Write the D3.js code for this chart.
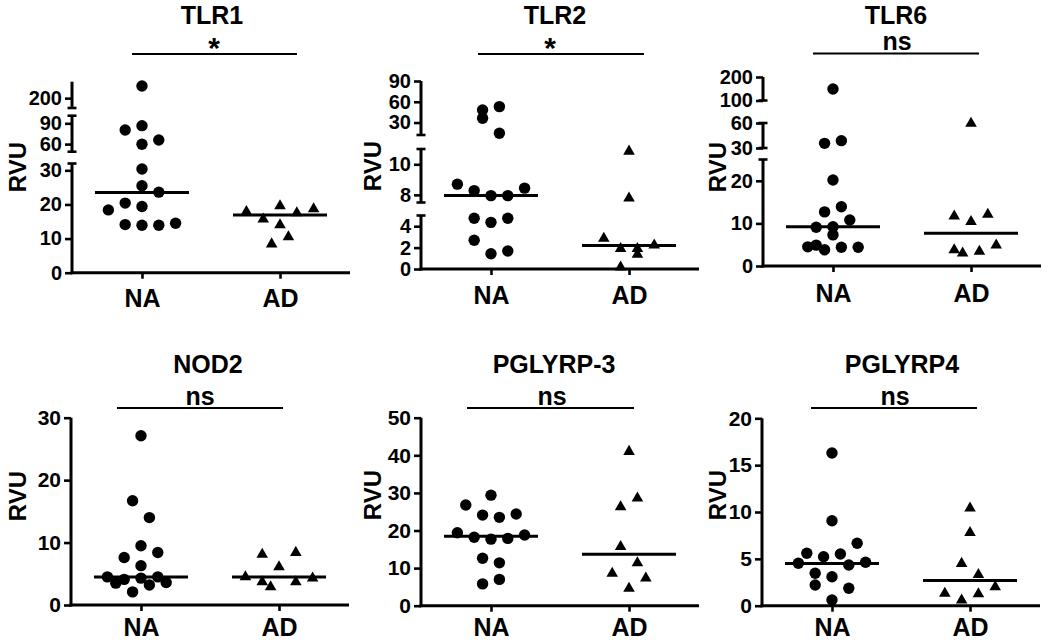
<!DOCTYPE html>
<html><head><meta charset="utf-8">
<script src="https://cdn.jsdelivr.net/npm/d3@7"></script>
<style>body{margin:0;background:#fff}svg{display:block}</style>
</head><body><svg id="c" width="1050" height="642"></svg>
<script>
// ---------------- DATA ----------------
const categories = ["NA", "AD"];
const titles = ["TLR1", "TLR2", "TLR6", "NOD2", "PGLYRP-3", "PGLYRP4"];
const sigLabels = ["*", "*", "ns", "ns", "ns", "ns"];
const yLabel = "RVU";

const tlr1NA = [237, 80.4, 86.6, 65.9, 59.7, 30.4, 25.5, 23.6, 18.4, 20.4, 19.4, 14.1, 13.9, 13.9, 14.5];
const tlr1AD = [17.9, 15.7, 19.6, 14.0, 17.5, 18.7, 8.4, 10.5];
const tlr1Median = [23.5, 16.9];
const tlr1Ticks = [0, 10, 20, 30, 60, 90, 200];

const tlr2NA = [48.2, 36.2, 53, 14.5, 8.7, 8.28, 7.95, 7.95, 8.44, 4.74, 4.36, 4.74, 2.69, 1.43, 1.68];
const tlr2AD = [10.85, 7.78, 2.85, 1.9, 1.9, 1.37, 2.22, 0.17];
const tlr2Median = [7.95, 2.2];
const tlr2Ticks = [0, 2, 4, 8, 10, 30, 60, 90];

const tlr6NA = [149, 35.6, 38.8, 20.2, 12.7, 13.9, 10.8, 9.1, 9.2, 7.3, 4.5, 4.9, 3.8, 4.4, 4.4];
const tlr6AD = [59.6, 11.7, 10.4, 12.1, 3.8, 3.0, 3.4, 4.9];
const tlr6Median = [9.2, 7.7];
const tlr6Ticks = [0, 10, 20, 30, 60, 100, 200];

const nod2NA = [27.1, 16.7, 14.0, 9.5, 8.4, 7.6, 6.3, 4.5, 3.5, 4.1, 4.3, 3.2, 4.5, 3.6, 2.1];
const nod2AD = [8.1, 8.4, 6.1, 4.5, 3.7, 3.7, 4.3, 2.9];
const nod2Median = [4.5, 4.5];
const nod2Ticks = [0, 10, 20, 30];

const pglyrp3NA = [29.4, 26.8, 24.1, 23.5, 24.4, 19.4, 18.2, 17.7, 17.9, 18.8, 12.6, 11.4, 5.8, 7.0];
const pglyrp3AD = [41.0, 28.6, 26.3, 15.7, 11.4, 8.6, 7.3, 4.6];
const pglyrp3Median = [18.5, 13.7];
const pglyrp3Ticks = [0, 10, 20, 30, 40, 50];

const pglyrp4NA = [16.3, 9.07, 6.66, 5.59, 5.23, 5.52, 4.53, 4.34, 4.63, 3.46, 3.09, 2.21, 1.86, 0.61];
const pglyrp4AD = [10.4, 7.8, 4.5, 3.3, 1.3, 1.25, 2.0, 0.6];
const pglyrp4Median = [4.5, 2.7];
const pglyrp4Ticks = [0, 5, 10, 15, 20];

// ---------------- LAYOUT (dodge slots, axis breaks, placement) ----------------
const dodge = {
  tlr1NA: [0, -2, 0, 2, 0, 0, 0, 2, -4, -2, 0, -2, 0, 2, 4],
  tlr1AD: [-4, -2, 0, 0, 2, 4, -1, 1],
  tlr2NA: [-1, -1, 1, 1, -4, -2, 0, 2, 4, -2, 0, 2, -2, 0, 2],
  tlr2AD: [0, 0, -3, -1, 1, 1, 3, -1],
  tlr6NA: [0, -1, 1, 0, -1, 1, 2, -2, 0, 0, -3, -2, -1, 1, 3],
  tlr6AD: [0, -2, 0, 2, -2, -1, 1, 3],
  nod2NA: [0, -1, 1, 0, 2, -2, 0, -4, -3, -2, 0, 1, 2, 3, -1],
  nod2AD: [-2, 2, 0, -4, -2, 2, 4, -1],
  pglyrp3NA: [0, -3, -1, 1, 3, -4, -2, 0, 2, 4, -1, 1, -1, 1],
  pglyrp3AD: [0, 1, -1, -1, 1, -2, 2, 0],
  pglyrp4NA: [0, 0, 3, -3, -1, 1, -4, 2, 4, -2, 0, -2, 2, 0],
  pglyrp4AD: [0, 0, -1, 1, -3, 1, 3, -1]
};

// segs: [domainLo, domainHi, pixelLo, pixelHi]
const layout = [
  {ax: 72, base: 272.7, segs: [[0, 32, 272.7, 163.5], [49, 101, 151.7, 115.7], [170, 250, 108, 81.7]],
   titleX: 212, titleY: 23.5, sig: [132, 297, 54], sigX: 214, rvuX: 17, rvuY: 167, tickFont: 20, xPad: 11},
  {ax: 421, base: 269, segs: [[0, 5, 269, 215.5], [7.5, 11, 202.5, 149], [12, 90, 135, 81]],
   titleX: 555, titleY: 23.5, sig: [478, 644, 54], sigX: 550, rvuX: 372.5, rvuY: 166, tickFont: 20, xPad: 11},
  {ax: 763, base: 266, segs: [[0, 25, 266, 159.5], [30, 60, 148, 123], [100, 200, 100.5, 77]],
   titleX: 896, titleY: 23.5, sig: [813, 979, 53.5], sigX: 897, rvuX: 717, rvuY: 167, tickFont: 20, xPad: 12},
  {ax: 71, base: 605, segs: [[0, 30, 605, 417.7]],
   titleX: 208, titleY: 372.5, sig: [117, 283, 408], sigX: 200, rvuX: 17.5, rvuY: 496, tickFont: 21, xPad: 7},
  {ax: 421, base: 605.7, segs: [[0, 50, 605.7, 417.7]],
   titleX: 554, titleY: 372.5, sig: [467, 634, 408], sigX: 552, rvuX: 372.5, rvuY: 495, tickFont: 21, xPad: 7},
  {ax: 762, base: 605.7, segs: [[0, 20, 605.7, 418.3]],
   titleX: 902, titleY: 372.5, sig: [811, 977, 408], sigX: 895, rvuX: 717, rvuY: 495, tickFont: 21, xPad: 7}
];

const panels = [
  {na: tlr1NA, ad: tlr1AD, med: tlr1Median, ticks: tlr1Ticks, dn: dodge.tlr1NA, da: dodge.tlr1AD},
  {na: tlr2NA, ad: tlr2AD, med: tlr2Median, ticks: tlr2Ticks, dn: dodge.tlr2NA, da: dodge.tlr2AD},
  {na: tlr6NA, ad: tlr6AD, med: tlr6Median, ticks: tlr6Ticks, dn: dodge.tlr6NA, da: dodge.tlr6AD},
  {na: nod2NA, ad: nod2AD, med: nod2Median, ticks: nod2Ticks, dn: dodge.nod2NA, da: dodge.nod2AD},
  {na: pglyrp3NA, ad: pglyrp3AD, med: pglyrp3Median, ticks: pglyrp3Ticks, dn: dodge.pglyrp3NA, da: dodge.pglyrp3AD},
  {na: pglyrp4NA, ad: pglyrp4AD, med: pglyrp4Median, ticks: pglyrp4Ticks, dn: dodge.pglyrp4NA, da: dodge.pglyrp4AD}
];

// ---------------- DRAW ----------------
const FONT = "'Liberation Sans', Arial, Helvetica, sans-serif";
const INK = "#000";
const svg = d3.select("#c");
svg.append("rect").attr("width", 1050).attr("height", 642).attr("fill", "#fff");

const AXIS_W = 278, SLOT = 8.4, MED_HALF = 47;

panels.forEach((p, i) => {
  const L = layout[i];
  const g = svg.append("g");

  const y = d3.scaleLinear()
    .domain(L.segs.flatMap(s => [s[0], s[1]]))
    .range(L.segs.flatMap(s => [s[2], s[3]]));
  const x = d3.scalePoint().domain(categories).range([L.ax, L.ax + AXIS_W]).padding(0.507);

  // y axis ticks & labels
  const yAx = g.append("g").attr("transform", `translate(${L.ax},0)`)
    .call(d3.axisLeft(y).tickValues(p.ticks).tickSize(7).tickPadding(3).tickFormat(d3.format("d")));
  yAx.select(".domain").remove();
  yAx.selectAll(".tick line").attr("stroke", INK).attr("stroke-width", 2.6);
  yAx.selectAll(".tick text").attr("fill", INK)
    .style("font-family", FONT).style("font-weight", "bold").style("font-size", L.tickFont + "px");

  // y axis segments with break caps
  L.segs.forEach((s, k) => {
    g.append("line").attr("x1", L.ax).attr("x2", L.ax)
      .attr("y1", y(s[0]) + (k === 0 ? 1.5 : 0)).attr("y2", y(s[1]))
      .attr("stroke", INK).attr("stroke-width", 3);
    const caps = [];
    if (k > 0) caps.push(y(s[0]));
    if (k < L.segs.length - 1) caps.push(y(s[1]));
    caps.forEach(cy => g.append("line").attr("x1", L.ax - 4.5).attr("x2", L.ax + 4.5)
      .attr("y1", cy).attr("y2", cy).attr("stroke", INK).attr("stroke-width", 2.6));
  });

  // x axis
  const xAx = g.append("g").attr("transform", `translate(0,${L.base})`)
    .call(d3.axisBottom(x).tickSize(6).tickSizeOuter(0).tickPadding(L.xPad));
  xAx.select(".domain").remove();
  xAx.selectAll(".tick line").attr("stroke", INK).attr("stroke-width", 2.6);
  xAx.selectAll(".tick text").attr("fill", INK)
    .style("font-family", FONT).style("font-weight", "bold").style("font-size", "25px");
  g.append("line").attr("x1", L.ax - 1.5).attr("x2", L.ax + AXIS_W)
    .attr("y1", L.base).attr("y2", L.base).attr("stroke", INK).attr("stroke-width", 3);

  // y label
  g.append("text").attr("transform", `translate(${L.rvuX},${L.rvuY}) rotate(-90)`)
    .attr("text-anchor", "middle").attr("dy", "0.36em").attr("fill", INK)
    .style("font-family", FONT).style("font-weight", "bold").style("font-size", "24px")
    .text(yLabel);

  // title
  g.append("text").attr("x", L.titleX).attr("y", L.titleY).attr("text-anchor", "middle").attr("fill", INK)
    .style("font-family", FONT).style("font-weight", "bold").style("font-size", "25px")
    .text(titles[i]);

  // significance bar
  g.append("line").attr("x1", L.sig[0]).attr("x2", L.sig[1]).attr("y1", L.sig[2]).attr("y2", L.sig[2])
    .attr("stroke", INK).attr("stroke-width", 2.2);
  const star = sigLabels[i] === "*";
  g.append("text").attr("x", L.sigX).attr("y", star ? L.sig[2] + 4 : L.sig[2] - 3.5)
    .attr("text-anchor", "middle").attr("fill", INK)
    .style("font-family", FONT).style("font-weight", "bold").style("font-size", star ? "30px" : "25px")
    .text(sigLabels[i]);

  // points: NA circles
  g.selectAll("circle.na").data(p.na.map((v, j) => ({v, s: p.dn[j]}))).join("circle")
    .attr("class", "na")
    .attr("cx", d => x("NA") + d.s * SLOT).attr("cy", d => y(d.v)).attr("r", 5.7).attr("fill", INK);

  // AD triangles
  const tri = d3.symbol(d3.symbolTriangle, 58);
  g.selectAll("path.ad").data(p.ad.map((v, j) => ({v, s: p.da[j]}))).join("path")
    .attr("class", "ad").attr("d", tri)
    .attr("transform", d => `translate(${x("AD") + d.s * SLOT},${y(d.v)})`).attr("fill", INK);

  // medians
  categories.forEach((c, k) => {
    g.append("line").attr("x1", x(c) - MED_HALF).attr("x2", x(c) + MED_HALF)
      .attr("y1", y(p.med[k])).attr("y2", y(p.med[k])).attr("stroke", INK).attr("stroke-width", 3);
  });
});
</script>
</body></html>
